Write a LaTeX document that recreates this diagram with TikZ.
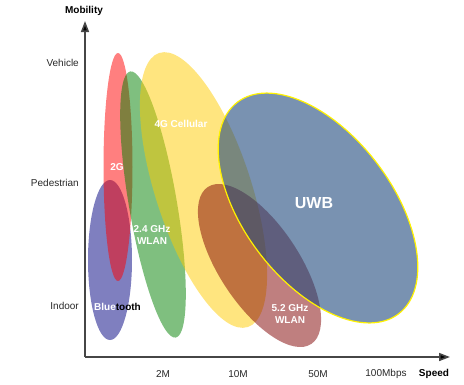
\documentclass[tikz,border=0pt]{standalone}
\usepackage{fontspec}
\setmainfont{Liberation Sans}
\usetikzlibrary{arrows.meta}
\definecolor{cRed}{RGB}{255,0,0}
\definecolor{cGreen}{RGB}{0,128,0}
\definecolor{cBlue}{RGB}{0,0,128}
\definecolor{cYellow}{RGB}{255,204,0}
\definecolor{cMaroon}{RGB}{128,0,0}
\definecolor{cUWB}{RGB}{31,73,125}
\definecolor{axisgray}{RGB}{70,70,70}
\definecolor{labelgray}{RGB}{40,40,40}
\tikzset{
  blob/.style={fill opacity=0.5, draw=none},
  axisline/.style={draw=axisgray, line width=1.6pt, -{Triangle[length=11pt,width=8pt,fill=black]}},
  ticklabel/.style={font=\fontsize{10}{12}\selectfont, text=labelgray, inner sep=0pt},
  axistitle/.style={font=\fontsize{10}{12}\selectfont\bfseries, text=black, inner sep=0pt},
  inlabel/.style={font=\fontsize{10}{12}\selectfont\bfseries, text=white, inner sep=0pt, align=center}
}
\begin{document}
\begin{tikzpicture}[x=1pt, y=-1pt]
\useasboundingbox (0,0) rectangle (464,384);
% ellipses (drawing order matters for overlaps)
\fill[blob, fill=cBlue, rotate around={-90:(110,260)}] (110,260) ellipse [x radius=80pt, y radius=22pt];
\fill[blob, fill=cRed, rotate around={-90:(118,167)}] (118,167) ellipse [x radius=114pt, y radius=14.5pt];
\fill[blob, fill=cGreen, rotate around={-80.3:(153,204.5)}] (153,204.5) ellipse [x radius=135pt, y radius=24pt];
\fill[blob, fill=cYellow, rotate around={-72.1:(203.5,190)}] (203.5,190) ellipse [x radius=144pt, y radius=48pt];
\fill[blob, fill=cMaroon, rotate around={-56.6:(259.5,265.5)}] (259.5,265.5) ellipse [x radius=94pt, y radius=40pt];
\path[fill=cUWB, fill opacity=0.6, draw=yellow, line width=1.2pt, rotate around={-52.7:(318,208)}] (318,208) ellipse [x radius=133pt, y radius=74pt];
% axes
\coordinate (O) at (85,357);
\coordinate (ytip) at (85,21);
\coordinate (xtip) at (450,357);
\draw[axisline] (O) -- (ytip);
\draw[axisline] (O) -- (xtip);
% axis titles
\node[axistitle] (mob) at (84,11) {Mobility};
\node[axistitle] (spd) at (434,374) {Speed};
% y labels
\node[ticklabel, anchor=east] (veh) at (79,63) {Vehicle};
\node[ticklabel, anchor=east] (ped) at (79,183) {Pedestrian};
\node[ticklabel, anchor=east] (ind) at (79,306) {Indoor};
% x labels
\node[ticklabel] (x2) at (163,374) {2M};
\node[ticklabel] (x10) at (238,374) {10M};
\node[ticklabel] (x50) at (318,374) {50M};
\node[ticklabel] (x100) at (386,374) {100Mbps};
% in-ellipse labels
\node[inlabel] (l2g) at (117,167) {2G};
\node[inlabel] (l4g) at (181,124) {4G Cellular};
\node[inlabel] (lw24) at (152,235.5) {2.4 GHz\\WLAN};
\node[inlabel] (lw52) at (290,314.5) {5.2 GHz\\WLAN};
\node[inlabel, font=\fontsize{16}{18}\selectfont\bfseries] (luwb) at (314,203) {UWB};
\node[inlabel] (lbt) at (117.5,307) {Blue\textcolor{black}{tooth}};
\end{tikzpicture}
\end{document}
